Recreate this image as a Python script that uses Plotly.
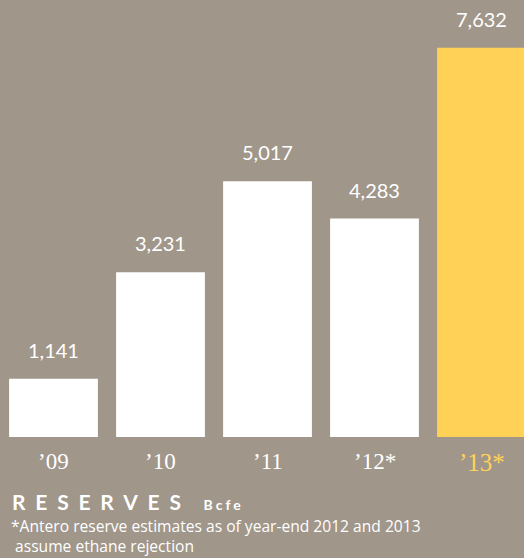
import plotly.graph_objects as go

categories = ["’09", "’10", "’11", "’12*", "’13*"]
values = [1141, 3231, 5017, 4283, 7632]
value_labels = ["1,141", "3,231", "5,017", "4,283", "7,632"]
bar_colors = ["#ffffff", "#ffffff", "#ffffff", "#ffffff", "#ffd257"]
cat_colors = ["#ffffff", "#ffffff", "#ffffff", "#ffffff", "#ffd257"]

BG = "#a0968a"
W, H = 524, 558
PLOT_H = 437


def py(ypix):
    return (PLOT_H - ypix) / PLOT_H


fig = go.Figure()
fig.add_trace(go.Bar(
    x=list(range(len(categories))), y=values,
    marker=dict(color=bar_colors, line=dict(width=0)),
    width=0.83, hoverinfo="skip",
))

for i, (v, lab) in enumerate(zip(values, value_labels)):
    fig.add_annotation(x=i, y=v, text=lab, showarrow=False, yanchor="bottom",
                       yshift=15, font=dict(family="Lato, Open Sans, sans-serif", size=20, color="#ffffff"))
    fig.add_annotation(x=i, y=0, text=categories[i], showarrow=False, yanchor="top",
                       yshift=-10, font=dict(family="Liberation Serif, DejaVu Serif, serif",
                                             size=25 if i == 4 else 23, color=cat_colors[i]))

fig.add_annotation(xref="paper", yref="paper", x=10 / W, y=py(501), xanchor="left", yanchor="middle",
                   text="<span style='letter-spacing:9.8px'><b>RESERVES</b></span>"
                        "<span style='font-size:14px;letter-spacing:3px'><b>  Bcfe</b></span>",
                   showarrow=False, font=dict(family="Lato, Open Sans, sans-serif", size=21, color="#ffffff"))
fig.add_annotation(xref="paper", yref="paper", x=9 / W, y=py(536), xanchor="left", yanchor="middle",
                   text="*Antero reserve estimates as of year-end 2012 and 2013<br> assume ethane rejection",
                   align="left", showarrow=False,
                   font=dict(family="Open Sans, Lato, sans-serif", size=15.6, color="#ffffff"))

fig.update_layout(
    width=W, height=H,
    margin=dict(l=0, r=0, t=0, b=H - PLOT_H),
    paper_bgcolor=BG, plot_bgcolor=BG,
    showlegend=False,
    xaxis=dict(range=[-0.5, W / 107 - 0.5], visible=False, fixedrange=True),
    yaxis=dict(range=[0, 8570], visible=False, fixedrange=True),
)

fig.write_html("out.html", config={"displayModeBar": False},
               post_script="document.body.style.margin='0';document.body.style.overflow='hidden';")
